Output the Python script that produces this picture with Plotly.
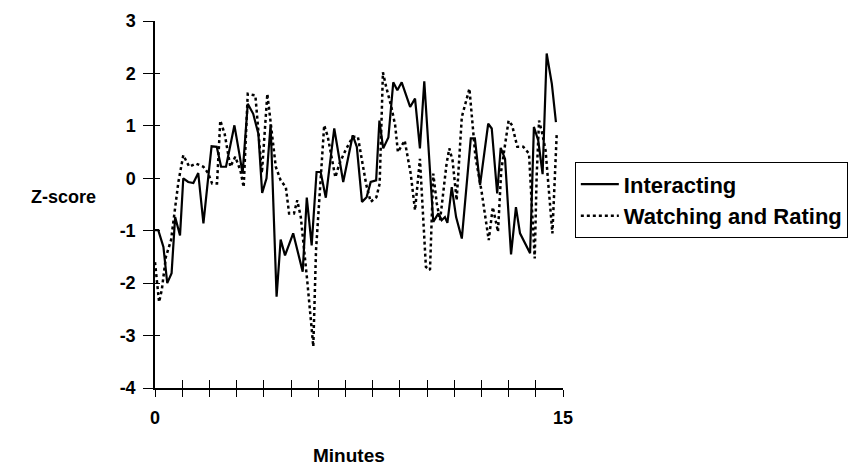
import plotly.graph_objects as go

# Interacting (solid)
int_min = [0, 0.12, 0.31, 0.45, 0.61, 0.74, 0.92, 1.04, 1.22, 1.41, 1.59, 1.78, 1.96, 2.08, 2.27, 2.43,
           2.61, 2.92, 3.10, 3.22, 3.41, 3.61, 3.80, 3.94, 4.10, 4.25, 4.47, 4.62, 4.78, 5.08, 5.43, 5.58,
           5.76, 5.94, 6.09, 6.28, 6.59, 6.92, 7.27, 7.42, 7.61, 7.78, 7.93, 8.13, 8.25, 8.39, 8.58, 8.76,
           8.91, 9.07, 9.38, 9.56, 9.74, 9.90, 10.23, 10.42, 10.54, 10.66, 10.75, 10.91, 11.07, 11.28,
           11.61, 11.76, 11.95, 12.25, 12.38, 12.58, 12.71, 12.87, 13.09, 13.27, 13.42, 13.79, 13.93,
           14.09, 14.25, 14.40, 14.59, 14.74]
int_z = [-0.99, -0.99, -1.31, -2.0, -1.81, -0.74, -1.09, 0.0, -0.07, -0.09, 0.1, -0.86, 0.03, 0.61, 0.6,
         0.22, 0.22, 1.01, 0.47, 0.09, 1.42, 1.23, 0.85, -0.28, 0.0, 1.03, -2.26, -1.17, -1.47, -1.05,
         -1.78, -0.37, -1.28, 0.12, 0.12, -0.37, 0.95, -0.07, 0.82, 0.6, -0.45, -0.36, -0.07, -0.04, 1.10,
         0.57, 0.78, 1.83, 1.68, 1.83, 1.36, 1.52, 0.57, 1.85, -0.83, -0.67, -0.8, -0.74, -0.85, -0.17,
         -0.74, -1.15, 0.76, 0.76, -0.13, 1.04, 0.95, -0.29, 0.58, 0.37, -1.45, -0.55, -1.05, -1.43, 0.98,
         0.72, 0.08, 2.38, 1.8, 1.07]

# Watching and Rating (dotted)
wat_min = [0, 0.15, 0.25, 0.40, 0.59, 0.71, 0.86, 1.04, 1.26, 1.51, 1.78, 1.95, 2.10, 2.28, 2.40, 2.56,
           2.77, 2.95, 3.14, 3.26, 3.41, 3.69, 3.93, 4.13, 4.44, 4.62, 4.81, 4.93, 5.11, 5.23, 5.36, 5.60,
           5.82, 5.92, 6.10, 6.22, 6.35, 6.53, 6.63, 6.78, 7.02, 7.27, 7.46, 7.65, 7.77, 7.93, 8.14, 8.26,
           8.38, 8.50, 8.69, 8.83, 8.93, 9.18, 9.40, 9.56, 9.74, 9.96, 10.11, 10.23, 10.36, 10.48, 10.72,
           10.82, 10.94, 11.09, 11.28, 11.56, 11.68, 11.78, 12.00, 12.27, 12.42, 12.51, 12.61, 12.73,
           13.00, 13.13, 13.32, 13.54, 13.75, 13.96, 14.03, 14.12, 14.24, 14.36, 14.61, 14.77]
wat_z = [-1.6, -2.36, -2.13, -1.5, -1.18, -0.67, -0.07, 0.44, 0.22, 0.28, 0.22, 0.1, -0.1, -0.1, 1.1,
         0.85, 0.22, 0.41, 0.15, -0.17, 1.61, 1.58, 0.1, 1.61, 0.22, -0.04, -0.17, -0.67, -0.67, -0.42,
         -0.74, -1.97, -3.21, -1.37, 0.15, 1.01, 0.8, 0.28, 0.02, 0.28, 0.55, 0.79, 0.79, 0.22, -0.13,
         -0.45, -0.36, -0.1, 2.02, 1.74, 1.36, 1.01, 0.5, 0.72, 0.09, -0.61, 0.37, -1.69, -1.75, 0.09,
         -0.48, -0.8, 0.28, 0.57, 0.34, -0.42, 1.17, 1.71, 0.91, 0.41, -0.23, -1.18, -0.55, -0.8, -1.02,
         0.15, 1.1, 1.01, 0.6, 0.6, 0.47, -1.53, 0.02, 1.1, 0.85, 0.53, -1.05, 0.85]

x_ticks = list(range(0, 16))
x_labels = ["0"] + [""] * 14 + ["15"]
y_ticks = [-4, -3, -2, -1, 0, 1, 2, 3]
y_labels = ["-4", "-3", "-2", "-1", "0", "1", "2", "3"]

FONT = "Liberation Sans, Arial, sans-serif"

fig = go.Figure()
fig.add_trace(go.Scatter(x=int_min, y=int_z, mode="lines", name="Interacting",
                         line=dict(color="black", width=2.2)))
fig.add_trace(go.Scatter(x=wat_min, y=wat_z, mode="lines", name="Watching and Rating",
                         line=dict(color="black", width=2.5, dash="dot")))

fig.update_layout(
    width=848, height=462,
    paper_bgcolor="white", plot_bgcolor="white",
    margin=dict(l=147, r=293, t=13, b=82, autoexpand=False),
    font=dict(family=FONT, color="black", size=18),
    showlegend=True,
    legend=dict(x=1.029, y=0.615, xanchor="left", yanchor="top",
                bordercolor="black", borderwidth=1, bgcolor="white",
                font=dict(size=22, family=FONT, weight="bold"),
                itemwidth=38, tracegroupgap=0),
    xaxis=dict(range=[0, 15], tickvals=x_ticks, ticktext=x_labels, ticks="outside",
               ticklen=7, tickwidth=1, tickcolor="black", showline=True, linecolor="black",
               linewidth=1.5, showgrid=False, zeroline=False, ticklabelstandoff=6,
               automargin=False, tickfont=dict(size=18, family=FONT, weight="bold")),
    yaxis=dict(range=[-4, 3], tickvals=y_ticks, ticktext=y_labels, ticks="outside", ticklen=10,
               tickwidth=1, tickcolor="black", showline=True, linecolor="black", linewidth=1.5,
               showgrid=False, zeroline=False, ticklabelstandoff=4, automargin=False,
               tickfont=dict(size=18, family=FONT, weight="bold")),
    xaxis2=dict(range=[0, 15], tickvals=x_ticks, ticks="inside", ticklen=8, tickwidth=1,
                tickcolor="black", showticklabels=False, showgrid=False, zeroline=False,
                overlaying="x", side="bottom", anchor="y", automargin=False),
    yaxis2=dict(range=[-4, 3], tickvals=y_ticks, ticks="inside", ticklen=5, tickwidth=1,
                tickcolor="black", showticklabels=False, showgrid=False, zeroline=False,
                overlaying="y", side="left", anchor="x", automargin=False),
    annotations=[
        dict(text="<b>Z-score</b>", xref="paper", yref="paper", x=-0.14, y=0.52,
             xanchor="right", yanchor="middle", showarrow=False, font=dict(size=18)),
        dict(text="<b>Minutes</b>", xref="paper", yref="paper", x=0.475, y=-0.15,
             xanchor="center", yanchor="top", showarrow=False, font=dict(size=19)),
    ],
)
# invisible trace to activate the secondary (inside-tick) axes
fig.add_trace(go.Scatter(x=[0], y=[0], xaxis="x2", yaxis="y2", mode="markers",
                         marker=dict(opacity=0), showlegend=False, hoverinfo="skip"))

fig.write_html("out.html")
